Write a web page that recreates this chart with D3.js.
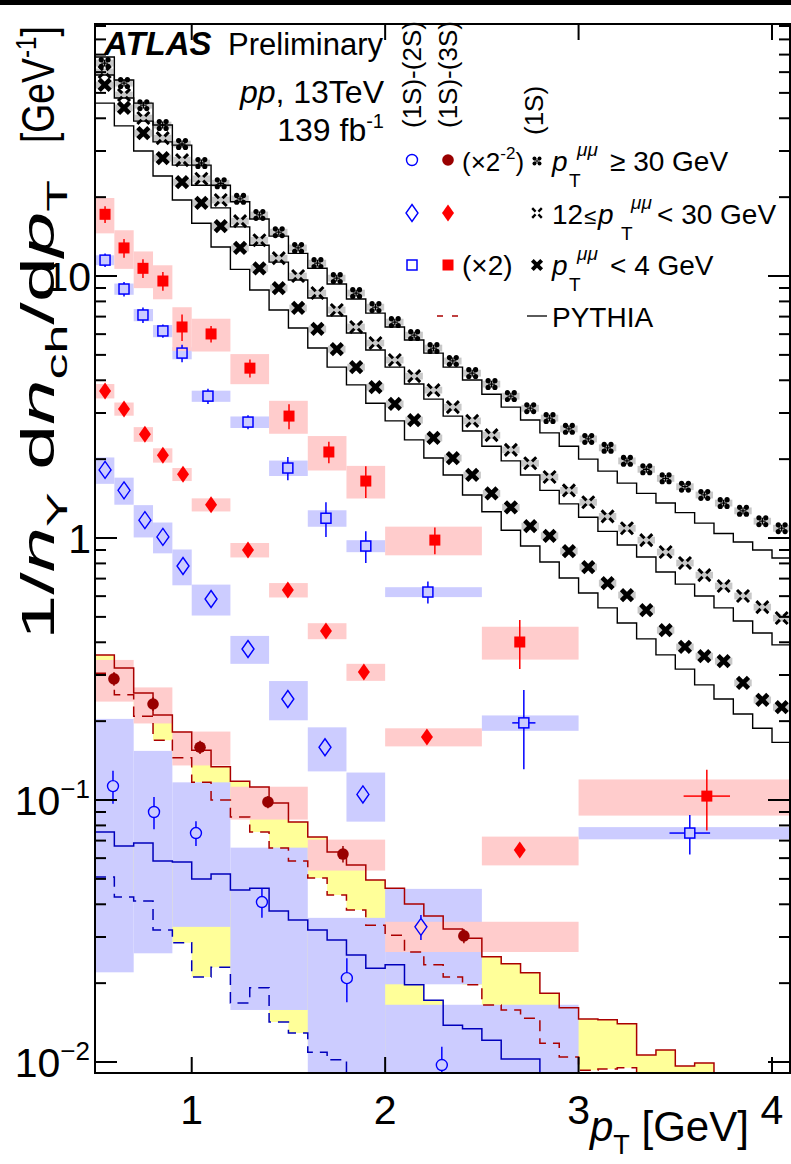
<!DOCTYPE html>
<html><head><meta charset="utf-8">
<script src="https://cdn.jsdelivr.net/npm/d3@7"></script>
<style>
body{margin:0;background:#fff}
svg{display:block}
text{font-family:"Liberation Sans",Arial,Helvetica,sans-serif;fill:#000}
</style>
</head><body>
<svg id="c" width="791" height="1164"></svg>
<script>
// ---------------- DATA ----------------
const blackBinEdges = [0.5,0.6,0.7,0.8,0.9,1.0,1.1,1.2,1.3,1.4,1.5,1.6,1.7,1.8,1.9,2.0,2.1,2.2,2.3,2.4,2.5,2.6,2.7,2.8,2.9,3.0,3.1,3.2,3.3,3.4,3.5,3.6,3.7,3.8,3.9,4.0,4.1];
const quadHigh = [65.0,54.5,44.9,37.7,31.9,27.0,22.6,19.7,17.1,14.7,12.8,11.2,9.82,8.61,7.61,6.67,5.95,5.31,4.74,4.26,3.87,3.48,3.13,2.87,2.61,2.39,2.21,1.97,1.83,1.69,1.57,1.46,1.36,1.27,1.16,1.09];
const quadHighPythia = [68.5,56.0,45.7,37.7,31.6,26.5,22.2,19.2,16.5,14.2,12.2,10.7,9.32,8.17,7.22,6.39,5.70,5.08,4.49,4.01,3.54,3.16,2.82,2.52,2.24,2.00,1.80,1.62,1.48,1.36,1.25,1.14,1.04,0.965,0.900,0.839];
const crossMid = [60.1,49.1,40.1,33.6,27.7,23.5,19.5,16.2,13.7,11.7,10.0,8.61,7.42,6.39,5.55,4.78,4.15,3.67,3.16,2.80,2.47,2.17,1.93,1.71,1.52,1.37,1.21,1.09,0.982,0.884,0.803,0.722,0.656,0.601,0.545,0.495];
const crossMidPythia = [58.5,47.8,39.0,32.5,26.5,22.2,18.2,15.4,13.1,11.3,9.65,8.24,7.04,6.06,5.22,4.49,3.87,3.39,2.92,2.56,2.24,1.97,1.74,1.52,1.35,1.20,1.06,0.940,0.846,0.742,0.667,0.601,0.541,0.482,0.434,0.391];
const thickLow = [53.6,43.8,35.1,28.2,22.8,19.0,15.5,12.8,10.7,9.00,7.55,6.28,5.26,4.49,3.77,3.25,2.82,2.41,2.02,1.74,1.48,1.31,1.11,1.02,0.892,0.775,0.673,0.606,0.531,0.445,0.384,0.354,0.339,0.280,0.241,0.226];
const thickLowPythia = [45.7,37.4,30.0,24.1,19.5,15.9,12.9,10.6,8.84,7.42,6.33,5.31,4.49,3.84,3.27,2.80,2.37,2.02,1.74,1.46,1.26,1.07,0.932,0.810,0.704,0.617,0.541,0.474,0.412,0.358,0.316,0.275,0.243,0.213,0.188,0.166];
const blackSysRel = 0.03;

const sqBinLo = [0.5,0.6,0.7,0.8,0.9,1.0,1.2,1.4,1.6,1.8,2.0,2.5,3.0];
const sqBinHi = [0.6,0.7,0.8,0.9,1.0,1.2,1.4,1.6,1.8,2.0,2.5,3.0,4.1];
const redSqX = [0.552,0.650,0.748,0.851,0.950,1.100,1.301,1.503,1.709,1.900,2.257,2.696,3.663];
const redSqY = [17.2,12.8,10.7,9.57,6.39,6.01,4.45,2.92,2.13,1.65,0.982,0.401,0.1035];
const redSqStat = [1.25,1.05,0.88,0.79,0.74,0.44,0.35,0.32,0.20,0.23,0.114,0.085,0.027];
const redSqSys = [2.65,2.15,1.71,1.42,1.21,0.86,0.585,0.42,0.32,0.235,0.123,0.0575,0.0163];
const redSqXErr = [0,0,0,0,0,0,0,0,0,0,0,0,0.12];
const blueSqX = [0.552,0.650,0.748,0.851,0.950,1.084,1.291,1.497,1.694,1.900,2.221,2.717,3.575];
const blueSqY = [11.5,8.92,7.10,6.17,5.08,3.48,2.77,1.85,1.19,0.932,0.622,0.197,0.0748];
const blueSqStat = [0.68,0.56,0.48,0.36,0.39,0.23,0.17,0.19,0.18,0.13,0.060,0.066,0.0129];
const blueSqSys = [0.5,0.44,0.38,0.33,0.27,0.17,0.14,0.125,0.086,0.049,0.027,0.0133,0.004];
const blueSqXErr = [0,0,0,0,0,0,0,0,0,0,0,0.06,0.105];

const diaBinLo = [0.5,0.6,0.7,0.8,0.9,1.0,1.2,1.4,1.6,1.8,2.0,2.5];
const diaBinHi = [0.6,0.7,0.8,0.9,1.0,1.2,1.4,1.6,1.8,2.0,2.5,3.0];
const redDiaX = [0.552,0.650,0.758,0.851,0.955,1.100,1.291,1.497,1.694,1.890,2.216,2.696];
const redDiaY = [3.64,3.11,2.49,2.07,1.75,1.34,0.900,0.633,0.442,0.308,0.174,0.0644];
const redDiaStat = [0.05,0.045,0.035,0.03,0.025,0.02,0.015,0.012,0.009,0.007,0.004,0.0018];
const redDiaSys = [0.23,0.18,0.16,0.13,0.10,0.077,0.057,0.040,0.031,0.023,0.0138,0.0081];
const blueDiaX = [0.552,0.650,0.758,0.851,0.955,1.100,1.291,1.497,1.689,1.885,2.185];
const blueDiaY = [1.82,1.52,1.17,1.01,0.782,0.585,0.377,0.243,0.159,0.105,0.0328];
const blueDiaStat = [0.07,0.06,0.045,0.04,0.03,0.022,0.014,0.009,0.006,0.004,0.0036];
const blueDiaSys = [0.21,0.18,0.165,0.136,0.122,0.079,0.046,0.0415,0.0304,0.0223,0.013];

const cirBinLo = [0.5,0.7,0.9,1.2,1.6,2.0];
const cirBinHi = [0.7,0.9,1.2,1.6,2.0,3.0];
const redCirX = [0.598,0.800,1.043,1.394,1.782,2.407];
const redCirY = [0.290,0.2325,0.159,0.0983,0.0622,0.0303];
const redCirStat = [0.017,0.014,0.0092,0.0053,0.0045,0.0019];
const redCirSys = [0.0525,0.0365,0.0235,0.0141,0.0084,0.004];
const blueCirX = [0.593,0.805,1.022,1.363,1.802,2.293];
const blueCirY = [0.113,0.090,0.0748,0.0408,0.0209,0.00974];
const blueCirStat = [0.0162,0.0126,0.0081,0.0053,0.004,0.0017];
const blueCirSys = [0.091,0.064,0.042,0.025,0.0146,0.0068];

const redPythiaSolid = [0.358,0.319,0.256,0.211,0.182,0.155,0.134,0.118,0.112,0.0974,0.0824,0.0722,0.0633,0.0565,0.0495,0.0461,0.0401,0.0361,0.0322,0.0297,0.0252,0.0237,0.0219,0.0183,0.0161,0.0146,0.0145,0.0140,0.01063,0.01111,0.00966,0.00991,0.006];
const redPythiaDashed = [0.305,0.252,0.209,0.169,0.145,0.117,0.100,0.0861,0.0755,0.0656,0.0585,0.0504,0.0434,0.0380,0.0333,0.0305,0.0263,0.0235,0.0211,0.0197,0.0165,0.0158,0.0147,0.0118,0.01045,0.0093,0.0094,0.0095,0.008,0.008,0.007,0.007,0.006];
const bluePythiaSolid = [0.0755,0.0667,0.0685,0.0585,0.0580,0.0499,0.0522,0.0453,0.0461,0.0377,0.0348,0.0319,0.0292,0.0256,0.0228,0.0235,0.0197,0.0172,0.0138,0.0134,0.0121,0.01027,0.01027,0.008];
const bluePythiaDashed = [0.0508,0.0426,0.0412,0.0319,0.0285,0.0211,0.0230,0.0168,0.0192,0.0142,0.0129,0.0109,0.0102,0.0085];

const xTicks = [1,2,3,4];
const yMajor = [0.01,0.1,1,10];
const yMajorLabels = [["10","\u22122"],["10","\u22121"],["1",""],["10",""]];

// ---------------- DRAW ----------------
const svg = d3.select("#c");
const L=95,R=790,T=24,B=1073;
const x = d3.scaleLinear().domain([0.5,4.093]).range([L,R]);
const y = d3.scaleLog().domain([0.00908,91.6]).range([B,T]);
const yc = v => Math.min(y(Math.max(v,1e-5)), B+4);

const C = {pink:"#ffcccc", lav:"#ccccff", yel:"#ffff99", gray:"#c8c8c8",
  red:"#ff0000", blue:"#0000ff", dred:"#990000", lineRed:"#aa0000", lineBlue:"#0000bb"};

svg.append("rect").attr("x",0).attr("y",0).attr("width",791).attr("height",5).attr("fill","#000");

const defs = svg.append("defs");
defs.append("clipPath").attr("id","plot").append("rect").attr("x",L).attr("y",T).attr("width",R-L).attr("height",B-T);
const P = svg.append("g").attr("clip-path","url(#plot)");

function band(solid, dashed){
  const pts = solid.map((v,i)=>({e:blackBinEdges[i], top:v, bot:(dashed[i]!==undefined?dashed[i]:1e-5)}));
  const n = solid.length;
  pts.push({e:blackBinEdges[n], top:solid[n-1], bot:(dashed[n-1]!==undefined?dashed[n-1]:1e-5)});
  const area = d3.area().curve(d3.curveStepAfter).x(d=>x(d.e)).y0(d=>yc(d.bot)).y1(d=>yc(d.top));
  P.append("path").attr("d",area(pts)).attr("fill",C.yel);
}
band(redPythiaSolid, redPythiaDashed);
band(bluePythiaSolid, bluePythiaDashed);

function boxes(lo,hi,vals,sys,color){
  P.append("g").selectAll("rect").data(vals).join("rect")
    .attr("x",(d,i)=>x(lo[i])).attr("width",(d,i)=>x(hi[i])-x(lo[i]))
    .attr("y",(d,i)=>yc(d+sys[i])).attr("height",(d,i)=>yc(d-sys[i])-yc(d+sys[i]))
    .attr("fill",color);
}
boxes(cirBinLo,cirBinHi,blueCirY,blueCirSys,C.lav);
boxes(diaBinLo,diaBinHi,blueDiaY,blueDiaSys,C.lav);
boxes(sqBinLo,sqBinHi,blueSqY,blueSqSys,C.lav);
boxes(cirBinLo,cirBinHi,redCirY,redCirSys,C.pink);
boxes(diaBinLo,diaBinHi,redDiaY,redDiaSys,C.pink);
boxes(sqBinLo,sqBinHi,redSqY,redSqSys,C.pink);

const centers = blackBinEdges.slice(0,-1).map((e,i)=>(e+blackBinEdges[i+1])/2);
[quadHigh,crossMid,thickLow].forEach(arr=>{
  P.append("g").selectAll("rect").data(arr).join("rect")
    .attr("x",(d,i)=>x(centers[i]-0.045)).attr("width",x(0.59)-x(0.5))
    .attr("y",d=>y(d*(1+blackSysRel))).attr("height",d=>y(d*(1-blackSysRel))-y(d*(1+blackSysRel)))
    .attr("fill",C.gray);
});

function step(vals,color,dash,w){
  const pts = vals.map((v,i)=>[blackBinEdges[i],v]);
  pts.push([blackBinEdges[vals.length],vals[vals.length-1]]);
  const ln = d3.line().curve(d3.curveStepAfter).x(d=>x(d[0])).y(d=>yc(d[1]));
  P.append("path").attr("d",ln(pts)).attr("fill","none").attr("stroke",color)
    .attr("stroke-width",w||1.4).attr("stroke-dasharray",dash||null);
}
step(quadHighPythia,"#000");
step(crossMidPythia,"#000");
step(thickLowPythia,"#000");
step(bluePythiaSolid,C.lineBlue,null,1.5);
step(bluePythiaDashed,C.lineBlue,"11,7",1.5);
step(redPythiaSolid,C.lineRed,null,1.5);
step(redPythiaDashed,C.lineRed,"11,7",1.5);

function marker(g,type,cx,cy,s){
  s = s||1;
  switch(type){
    case "sqFill": g.append("rect").attr("x",cx-5.5).attr("y",cy-5.5).attr("width",11).attr("height",11).attr("fill",C.red); break;
    case "sqOpen": g.append("rect").attr("x",cx-5).attr("y",cy-5).attr("width",10).attr("height",10).attr("fill","none").attr("stroke",C.blue).attr("stroke-width",1.5); break;
    case "diaFill": g.append("path").attr("d",`M${cx},${cy-8.5}L${cx+6},${cy}L${cx},${cy+8.5}L${cx-6},${cy}Z`).attr("fill",C.red); break;
    case "diaOpen": g.append("path").attr("d",`M${cx},${cy-8.5}L${cx+6},${cy}L${cx},${cy+8.5}L${cx-6},${cy}Z`).attr("fill","none").attr("stroke",C.blue).attr("stroke-width",1.4); break;
    case "cirFill": g.append("circle").attr("cx",cx).attr("cy",cy).attr("r",5.8).attr("fill",C.dred); break;
    case "cirOpen": g.append("circle").attr("cx",cx).attr("cy",cy).attr("r",5.5).attr("fill","none").attr("stroke",C.blue).attr("stroke-width",1.4); break;
    case "quad":
      [[-1,-1],[1,-1],[-1,1],[1,1]].forEach(([dx,dy])=>
        g.append("circle").attr("cx",cx+dx*3.4*s).attr("cy",cy+dy*3.4*s).attr("r",2.6*s).attr("fill","#000"));
      g.append("path").attr("d",`M${cx-3.4*s},${cy}H${cx+3.4*s}M${cx},${cy-3.4*s}V${cy+3.4*s}`).attr("stroke","#000").attr("stroke-width",1.3*s);
      break;
    case "openX":
      g.append("path").attr("d",`M${cx-6*s},${cy-6*s}L${cx-1.8*s},${cy-1.8*s}M${cx+6*s},${cy-6*s}L${cx+1.8*s},${cy-1.8*s}M${cx-6*s},${cy+6*s}L${cx-1.8*s},${cy+1.8*s}M${cx+6*s},${cy+6*s}L${cx+1.8*s},${cy+1.8*s}`)
        .attr("stroke","#000").attr("stroke-width",3*s);
      break;
    case "thickX":
      g.append("path").attr("d",`M${cx-5.5*s},${cy-5.5*s}L${cx+5.5*s},${cy+5.5*s}M${cx-5.5*s},${cy+5.5*s}L${cx+5.5*s},${cy-5.5*s}`)
        .attr("stroke","#000").attr("stroke-width",4.6*s);
      break;
  }
}
function series(xs,ys,stat,type,color,gap,xerr){
  const g = P.append("g");
  ys.forEach((v,i)=>{
    const cx=x(xs[i]), cy=y(v), t=yc(v+stat[i]), b=yc(v-stat[i]);
    if(t<cy-gap) g.append("line").attr("x1",cx).attr("x2",cx).attr("y1",t).attr("y2",cy-gap).attr("stroke",color).attr("stroke-width",1.5);
    if(b>cy+gap) g.append("line").attr("x1",cx).attr("x2",cx).attr("y1",cy+gap).attr("y2",b).attr("stroke",color).attr("stroke-width",1.5);
    if(xerr && xerr[i]>0){
      g.append("line").attr("x1",x(xs[i]-xerr[i])).attr("x2",cx-gap).attr("y1",cy).attr("y2",cy).attr("stroke",color).attr("stroke-width",1.5);
      g.append("line").attr("x1",cx+gap).attr("x2",x(xs[i]+xerr[i])).attr("y1",cy).attr("y2",cy).attr("stroke",color).attr("stroke-width",1.5);
    }
    marker(g,type,cx,cy);
  });
}
[[quadHigh,"quad"],[crossMid,"openX"],[thickLow,"thickX"]].forEach(([arr,t])=>{
  const g=P.append("g"); arr.forEach((v,i)=>marker(g,t,x(centers[i]),y(v)));
});
series(blueCirX,blueCirY,blueCirStat,"cirOpen",C.blue,5.5);
series(blueDiaX,blueDiaY,blueDiaStat,"diaOpen",C.blue,8.5);
series(blueSqX,blueSqY,blueSqStat,"sqOpen",C.blue,5,blueSqXErr);
series(redCirX,redCirY,redCirStat,"cirFill",C.dred,0);
series(redDiaX,redDiaY,redDiaStat,"diaFill",C.red,0);
series(redSqX,redSqY,redSqStat,"sqFill",C.red,0,redSqXErr);

// ---------------- AXES / FRAME ----------------
const A = svg.append("g");
A.append("rect").attr("x",L).attr("y",T).attr("width",R-L).attr("height",B-T).attr("fill","none").attr("stroke","#000").attr("stroke-width",2);
xTicks.forEach(t=>{
  A.append("line").attr("x1",x(t)).attr("x2",x(t)).attr("y1",B).attr("y2",B-16).attr("stroke","#000").attr("stroke-width",2);
  A.append("line").attr("x1",x(t)).attr("x2",x(t)).attr("y1",T).attr("y2",T+16).attr("stroke","#000").attr("stroke-width",2);
  A.append("text").attr("x",x(t)).attr("y",1124).attr("text-anchor","middle").attr("font-size",41).text(t);
});
const dom = y.domain();
for(let d=-3; d<=1; d++){
  for(let k=1;k<=9;k++){
    const v=k*Math.pow(10,d);
    if(v<dom[0]||v>dom[1]) continue;
    const len = k===1?22:11;
    A.append("line").attr("x1",L).attr("x2",L+len).attr("y1",y(v)).attr("y2",y(v)).attr("stroke","#000").attr("stroke-width",2);
    A.append("line").attr("x1",R).attr("x2",R-len).attr("y1",y(v)).attr("y2",y(v)).attr("stroke","#000").attr("stroke-width",2);
  }
}
const yl = A.append("g").attr("font-size",41).attr("text-anchor","end");
yMajor.forEach((v,i)=>{
  const [base,exp] = yMajorLabels[i];
  const t = yl.append("text").attr("x",exp?90:91).attr("y",y(v)+15);
  t.append("tspan").text(base);
  if(exp) t.append("tspan").attr("font-size",26).attr("dy",-17).text(exp);
});

// axis titles
const xt = svg.append("text").attr("x",590).attr("y",1141).attr("font-size",42);
xt.append("tspan").attr("font-style","italic").text("p");
xt.append("tspan").attr("font-size",27).attr("dy",13).text("T");
xt.append("tspan").attr("dy",-13).text(" [GeV]");

// y title part A: 1/n_Y dn_ch/dp_T
const ya = svg.append("text").attr("font-size",47);
ya.append("tspan").text("1/");
ya.append("tspan").attr("font-style","italic").text("n");
ya.append("tspan").attr("font-size",30).attr("dy",13).text("\u03A5");
ya.append("tspan").attr("dy",-13).text(" d");
ya.append("tspan").attr("font-style","italic").text("n");
ya.append("tspan").attr("font-size",30).attr("dy",13).text("ch");
ya.append("tspan").attr("dy",-13).text("/d");
ya.append("tspan").attr("font-style","italic").text("p");
ya.append("tspan").attr("font-size",30).attr("dy",13).text("T");
const lenA = ya.node().getComputedTextLength();
ya.attr("transform",`translate(54,640) rotate(-90) scale(${460/lenA},1)`);
// y title part B: [GeV^-1]
const yb = svg.append("text").attr("font-size",46);
yb.append("tspan").text("[GeV");
yb.append("tspan").attr("font-size",30).attr("dy",-18).text("-1");
yb.append("tspan").attr("dy",18).text("]");
const lenB = yb.node().getComputedTextLength();
yb.attr("transform",`translate(54,143) rotate(-90) scale(${117/lenB},1)`);

// ---------------- LABELS ----------------
svg.append("text").attr("x",104).attr("y",55).attr("font-size",33).attr("font-weight","bold").attr("font-style","italic").text("ATLAS");
svg.append("text").attr("x",228).attr("y",55).attr("font-size",31).text("Preliminary");
const pp = svg.append("text").attr("x",384).attr("y",103).attr("font-size",32).attr("text-anchor","end");
pp.append("tspan").attr("font-style","italic").text("pp");
pp.append("tspan").text(", 13TeV");
const lum = svg.append("text").attr("x",384).attr("y",141).attr("font-size",32).attr("text-anchor","end");
lum.append("tspan").text("139 fb");
lum.append("tspan").attr("font-size",20).attr("dy",-13).text("-1");

[["(1S)-(2S)",421,128],["(1S)-(3S)",457,128],["(1S)",543,135]].forEach(([s,bx,by])=>{
  svg.append("text").attr("transform",`translate(${bx},${by}) rotate(-90)`).attr("font-size",26).text(s);
});

// legend
const Lg = svg.append("g");
marker(Lg,"cirOpen",412,160); marker(Lg,"cirFill",448,160); marker(Lg,"quad",537,161,0.75);
marker(Lg,"diaOpen",412,213); marker(Lg,"diaFill",448,213); marker(Lg,"openX",537,213,0.8);
marker(Lg,"sqOpen",412,265); marker(Lg,"sqFill",448,265); marker(Lg,"thickX",537,265,0.85);
Lg.append("line").attr("x1",437).attr("x2",443).attr("y1",316).attr("y2",316).attr("stroke",C.lineRed).attr("stroke-width",1.5);
Lg.append("line").attr("x1",452).attr("x2",458).attr("y1",316).attr("y2",316).attr("stroke",C.lineRed).attr("stroke-width",1.5);
Lg.append("line").attr("x1",527).attr("x2",547).attr("y1",316).attr("y2",316).attr("stroke","#000").attr("stroke-width",1.3);

const t1 = Lg.append("text").attr("x",462).attr("y",171).attr("font-size",26);
t1.append("tspan").text("(\u00D72"); t1.append("tspan").attr("font-size",17).attr("dy",-12).text("-2"); t1.append("tspan").attr("dy",12).text(")");
function ptmm(xp,xT,xmu,base,after,xAfter){
  Lg.append("text").attr("x",xp).attr("y",base).attr("font-size",28).attr("font-style","italic").text("p");
  Lg.append("text").attr("x",xT).attr("y",base+16).attr("font-size",19).text("T");
  Lg.append("text").attr("x",xmu).attr("y",base-15).attr("font-size",19).attr("font-style","italic").text("\u03BC\u03BC");
  Lg.append("text").attr("x",xAfter).attr("y",base).attr("font-size",28).text(after);
}
ptmm(552,569,577,171,"\u2265 30 GeV",610);
Lg.append("text").attr("x",552).attr("y",224).attr("font-size",28).text("12");
Lg.append("text").attr("x",584).attr("y",224).attr("font-size",22).text("\u2264");
ptmm(598,621,631,224,"< 30 GeV",657);
Lg.append("text").attr("x",462).attr("y",275).attr("font-size",28).text("(\u00D72)");
ptmm(552,569,577,275,"< 4 GeV",610);
Lg.append("text").attr("x",552).attr("y",327).attr("font-size",28).text("PYTHIA");
</script>
</body></html>
